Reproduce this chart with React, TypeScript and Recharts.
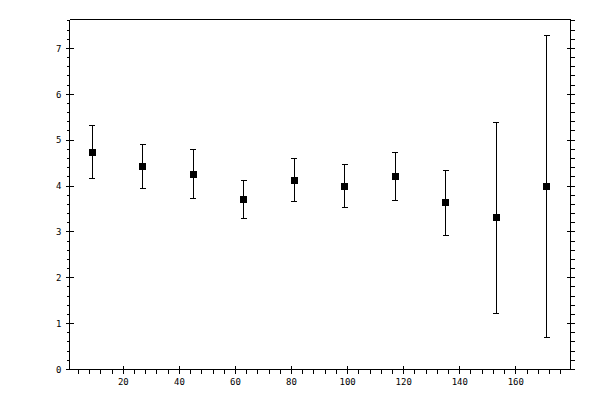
import React from 'react';
import { ScatterChart, Scatter, XAxis, YAxis, ErrorBar } from 'recharts';

// bin centres and measured means with symmetric errors
const binCenters = [9, 27, 45, 63, 81, 99, 117, 135, 153, 171];
const means = [4.74, 4.43, 4.26, 3.71, 4.13, 4.0, 4.21, 3.63, 3.31, 3.99];
const errors = [0.58, 0.48, 0.54, 0.42, 0.47, 0.46, 0.52, 0.7, 2.08, 3.3];

const xLabels = [20, 40, 60, 80, 100, 120, 140, 160];
const yLabels = [0, 1, 2, 3, 4, 5, 6, 7];
const X_MINOR_STEP = 4;
const Y_MINOR_STEP = 0.2;

const X_DOMAIN: [number, number] = [0.8, 179.5];
const Y_DOMAIN: [number, number] = [0, 7.63];

const data = binCenters.map((x, i) => ({ x, y: means[i], err: errors[i] }));

// minor tick positions (the majors fall on these too)
const xTicks = Array.from({ length: 44 }, (_, i) => (i + 1) * X_MINOR_STEP);
const yTicks = Array.from({ length: 39 }, (_, i) => Math.round(i * Y_MINOR_STEP * 10) / 10);

const FONT = '"DejaVu Sans Mono", monospace';
const isMajorX = (v: number) => xLabels.includes(v);
const isMajorY = (v: number) => yLabels.some((l) => Math.abs(l - v) < 1e-6);

const BottomTick = ({ x, y, payload }: any) => {
    const v = payload.value;
    const major = isMajorX(v);
    return (
        <g>
            <line x1={x} x2={x} y1={major ? y - 4 : y} y2={y + 4} stroke="#000" shapeRendering="crispEdges" />
            {major && (
                <text x={x} y={y + 15} textAnchor="middle" fontSize={9} fontFamily={FONT} fill="#000">
                    {v}
                </text>
            )}
        </g>
    );
};

const TopTick = ({ x, y, payload }: any) => {
    const major = isMajorX(payload.value);
    return <line x1={x} x2={x} y1={y - 4} y2={major ? y + 4 : y} stroke="#000" shapeRendering="crispEdges" />;
};

const LeftTick = ({ x, y, payload }: any) => {
    const v = payload.value;
    const major = isMajorY(v);
    return (
        <g>
            <line x1={major ? x - 4 : x - 3} x2={major ? x + 4 : x} y1={y} y2={y} stroke="#000" shapeRendering="crispEdges" />
            {major && (
                <text x={x - 8} y={y + 3.3} textAnchor="end" fontSize={9} fontFamily={FONT} fill="#000">
                    {Math.round(v)}
                </text>
            )}
        </g>
    );
};

const RightTick = ({ x, y, payload }: any) => {
    const major = isMajorY(payload.value);
    return <line x1={major ? x - 4 : x} x2={x + 4} y1={y} y2={y} stroke="#000" shapeRendering="crispEdges" />;
};

const Square = ({ cx, cy }: any) => (
    <rect x={cx - 3.5} y={cy - 3.5} width={7} height={7} fill="#000" shapeRendering="crispEdges" />
);

const axisLine = { stroke: '#000', strokeWidth: 1, shapeRendering: 'crispEdges' };

// axes get a 1px box (a zero-sized axis is not drawn), so the margins are 1px smaller
export default function App() {
    return (
        <div style={{ position: 'absolute', left: 0, top: 0, width: 600, height: 400, background: '#fff' }}>
            <ScatterChart width={600} height={400} margin={{ top: 18.5, right: 28.5, bottom: 29.5, left: 68.5 }}>
                <XAxis
                    xAxisId="b"
                    dataKey="x"
                    type="number"
                    domain={X_DOMAIN}
                    allowDataOverflow
                    ticks={xTicks}
                    interval={0}
                    height={1}
                    tickSize={0}
                    tickMargin={0}
                    tickLine={false}
                    axisLine={axisLine}
                    tick={<BottomTick />}
                />
                <XAxis
                    xAxisId="t"
                    orientation="top"
                    type="number"
                    domain={X_DOMAIN}
                    allowDataOverflow
                    ticks={xTicks}
                    interval={0}
                    height={1}
                    tickSize={0}
                    tickMargin={0}
                    tickLine={false}
                    axisLine={axisLine}
                    tick={<TopTick />}
                />
                <YAxis
                    yAxisId="l"
                    dataKey="y"
                    type="number"
                    domain={Y_DOMAIN}
                    allowDataOverflow
                    ticks={yTicks}
                    interval={0}
                    width={1}
                    tickSize={0}
                    tickMargin={0}
                    tickLine={false}
                    axisLine={axisLine}
                    tick={<LeftTick />}
                />
                <YAxis
                    yAxisId="r"
                    orientation="right"
                    type="number"
                    domain={Y_DOMAIN}
                    allowDataOverflow
                    ticks={yTicks}
                    interval={0}
                    width={1}
                    tickSize={0}
                    tickMargin={0}
                    tickLine={false}
                    axisLine={axisLine}
                    tick={<RightTick />}
                />
                <Scatter xAxisId="b" yAxisId="l" data={data} shape={<Square />} isAnimationActive={false}>
                    <ErrorBar
                        dataKey="err"
                        direction="y"
                        width={3}
                        stroke="#000"
                        strokeWidth={1}
                        shapeRendering="crispEdges"
                        isAnimationActive={false}
                    />
                </Scatter>
            </ScatterChart>
        </div>
    );
}
